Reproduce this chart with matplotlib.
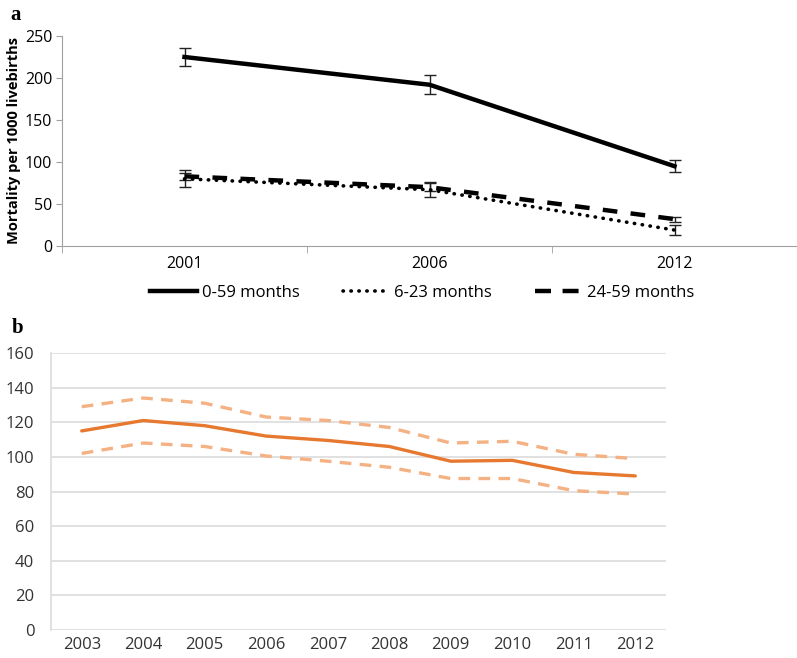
import matplotlib
matplotlib.use('Agg')
import matplotlib.pyplot as plt
from matplotlib.lines import Line2D

# panel a data
years_a = ['2001', '2006', '2012']
m0_59 = [225, 192, 95]
m0_59_err = [11, 11, 7]
m6_23 = [80, 67, 19]
m6_23_err = [10, 9, 6]
m24_59 = [83, 70, 32]
m24_59_err = [4, 5, 3]

# panel b data
years_b = ['2003', '2004', '2005', '2006', '2007', '2008', '2009', '2010', '2011', '2012']
rate_b = [115, 121, 118, 112, 109.5, 106, 97.5, 98, 91, 89]
upper_b = [129, 134, 131, 123, 121, 117, 108, 109, 101.5, 99]
lower_b = [102, 108, 106, 100.5, 97.5, 94, 87.5, 87.5, 80.5, 78.5]

plt.rcParams['font.family'] = ['Open Sans', 'DejaVu Sans']

fig = plt.figure(figsize=(7.97, 6.58), dpi=100)
W, H = 797, 658

def px_axes(l, t, r, b):
    return fig.add_axes([l / W, 1 - b / H, (r - l) / W, (b - t) / H])

dot_style = (0, (0.1, 2.1))
dash_style = (0, (3.3, 3.0))

# ---- panel a ----
ax = px_axes(62, 36, 797, 246)
xa = list(range(len(years_a)))
ax.errorbar(xa, m0_59, yerr=m0_59_err, color='black', lw=3.2, capsize=4.5,
            elinewidth=1, capthick=1, ecolor='#222222')
ax.errorbar(xa, m6_23, yerr=m6_23_err, color='black', lw=2.6, capsize=4.5,
            elinewidth=1, capthick=1, ecolor='#222222', linestyle=dot_style,
            dash_capstyle='round')
ax.errorbar(xa, m24_59, yerr=m24_59_err, color='black', lw=3.2, capsize=4.5,
            elinewidth=1, capthick=1, ecolor='#222222', linestyle=dash_style)
ax.set_xlim(-0.5, len(years_a) - 0.5)
ax.set_ylim(0, 250)
ax.set_yticks(range(0, 251, 50))
ax.set_xticks(xa)
ax.set_xticklabels(years_a)
ax.set_xticks([i - 0.5 for i in range(len(years_a) + 1)], minor=True)
ax.tick_params(axis='x', which='major', length=0, pad=7, labelsize=11.5)
ax.tick_params(axis='x', which='minor', length=5, color='#A0A0A0', direction='out')
ax.tick_params(axis='y', length=4, color='#A0A0A0', labelsize=11.5, pad=3)
for s in ['top', 'right']:
    ax.spines[s].set_visible(False)
for s in ['left', 'bottom']:
    ax.spines[s].set_color('#A0A0A0')
ax.set_ylabel('Mortality per 1000 livebirths', fontsize=10.5, fontweight='bold', labelpad=3)
handles = [Line2D([], [], color='black', lw=3.2),
           Line2D([], [], color='black', lw=2.6, linestyle=dot_style, dash_capstyle='round'),
           Line2D([], [], color='black', lw=3.2, linestyle=(0, (3.6, 2.6)))]
ax.legend(handles, ['0-59 months', '6-23 months', '24-59 months'],
          loc='center', bbox_to_anchor=(0.49, -0.225), ncol=3, frameon=False,
          fontsize=12, handlelength=2.8, columnspacing=2.6, handletextpad=0.3)
fig.text(10 / W, 1 - 15 / H, 'a', family='Liberation Serif', fontweight='bold',
         fontsize=15, va='center')

# ---- panel b ----
bx = px_axes(51, 353, 666, 630)
xb = list(range(len(years_b)))
bx.plot(xb, upper_b, color='#F4B183', lw=2.4, linestyle=(0, (3.5, 2.5)))
bx.plot(xb, lower_b, color='#F4B183', lw=2.4, linestyle=(0, (3.5, 2.5)))
bx.plot(xb, rate_b, color='#E6782F', lw=2.4, solid_capstyle='round')
bx.set_xlim(-0.5, len(years_b) - 0.5)
bx.set_ylim(0, 160)
bx.set_yticks(range(0, 161, 20))
bx.set_xticks(xb)
bx.set_xticklabels(years_b)
bx.grid(axis='y', color='#DCDCDC', lw=1.2)
bx.set_axisbelow(True)
for s in ['top', 'right', 'bottom']:
    bx.spines[s].set_visible(False)
bx.spines['left'].set_color('#DCDCDC')
bx.spines['left'].set_linewidth(1.2)
bx.tick_params(axis='y', length=0, labelsize=12, pad=12, labelcolor='#333333')
bx.tick_params(axis='x', length=0, labelsize=12, pad=5, labelcolor='#333333')
fig.text(12 / W, 1 - 328 / H, 'b', family='Liberation Serif', fontweight='bold',
         fontsize=15, va='center')

fig.savefig('out.png', dpi=100)
